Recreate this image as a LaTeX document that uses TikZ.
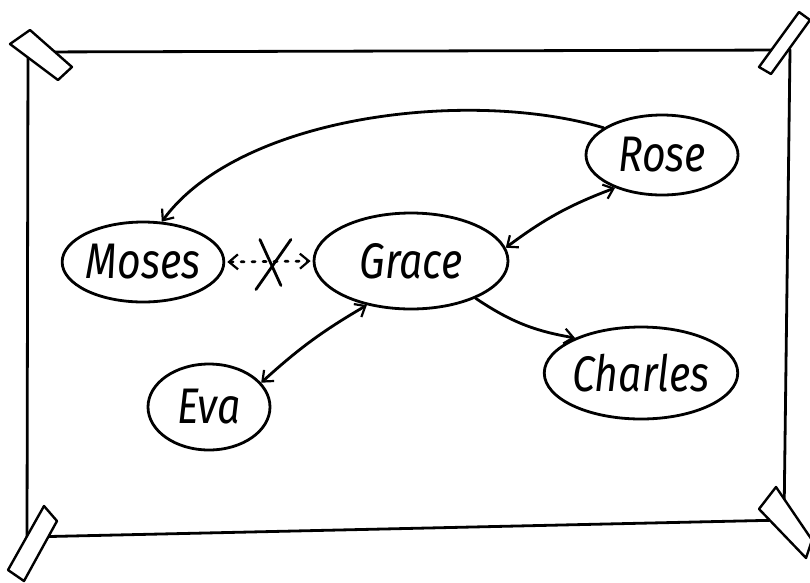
\documentclass[tikz,border=0pt]{standalone}
\usepackage{fontspec}
\setmainfont{Fira Sans}[FakeStretch=0.82]
\usetikzlibrary{shapes.geometric,arrows.meta}
\tikzset{
  ink/.style={line width=2.8pt, line cap=round, line join=round, black},
  person/.style={ellipse, ink, draw, inner sep=0pt, font=\fontsize{50}{50}\selectfont\itshape},
  tip/.style={-{Straight Barb[length=9pt,width=15pt,line width=2.2pt]}},
  tips/.style={{Straight Barb[length=9pt,width=15pt,line width=2.2pt]}-{Straight Barb[length=9pt,width=15pt,line width=2.2pt]}},
  tape/.style={draw, ink, line width=2.4pt, fill=white},
}
\begin{document}
\begin{tikzpicture}[x=1pt,y=-1pt]
\useasboundingbox (0,0) rectangle (810,582);
% frame
\draw[ink] (28,52) -- (790,50) -- (784,520) -- (27,537) -- cycle;
% tapes
\draw[tape] (10,44) -- (30,30) -- (72,67) -- (58,80) -- cycle;
\draw[tape] (799,12) -- (810,20) -- (771,74) -- (759,67) -- cycle;
\draw[tape] (44,506) -- (57,521) -- (24,581) -- (8,570) -- cycle;
\draw[tape] (776,487) -- (759,509) -- (806,558) -- (812,540) -- cycle;
% nodes
\node[person, minimum width=152pt, minimum height=80pt] (rose) at (662,155) {Rose};
\node[person, minimum width=158pt, minimum height=80pt] (moses) at (143,262) {Moses};
\node[person, minimum width=194pt, minimum height=96pt] (grace) at (411,261) {Grace};
\node[person, minimum width=168pt, minimum height=92pt] (charles) at (641,373) {Charles};
\node[person, minimum width=122pt, minimum height=86pt] (eva) at (209,407) {Eva};
% connectors
\draw[ink, tip] (rose.155) .. controls (470,88) and (240,115) .. (moses.65);
\draw[ink, tips, dash pattern=on 3pt off 8pt, shorten <=2pt, shorten >=2pt] (moses.east) -- (grace.west) coordinate[pos=0.5] (xm);
\draw[ink] ([shift={(-9,-22)}]xm) -- ([shift={(12,24)}]xm);
\draw[ink] ([shift={(22,-22)}]xm) -- ([shift={(-13,28)}]xm);
\draw[ink, tips] (grace.8) to[bend left=8] (rose.215);
\draw[ink, tip] (grace.-30) to[bend right=12] (charles.152);
\draw[ink, tips] (grace.-135) to[bend right=6] (eva.25);
\end{tikzpicture}
\end{document}
